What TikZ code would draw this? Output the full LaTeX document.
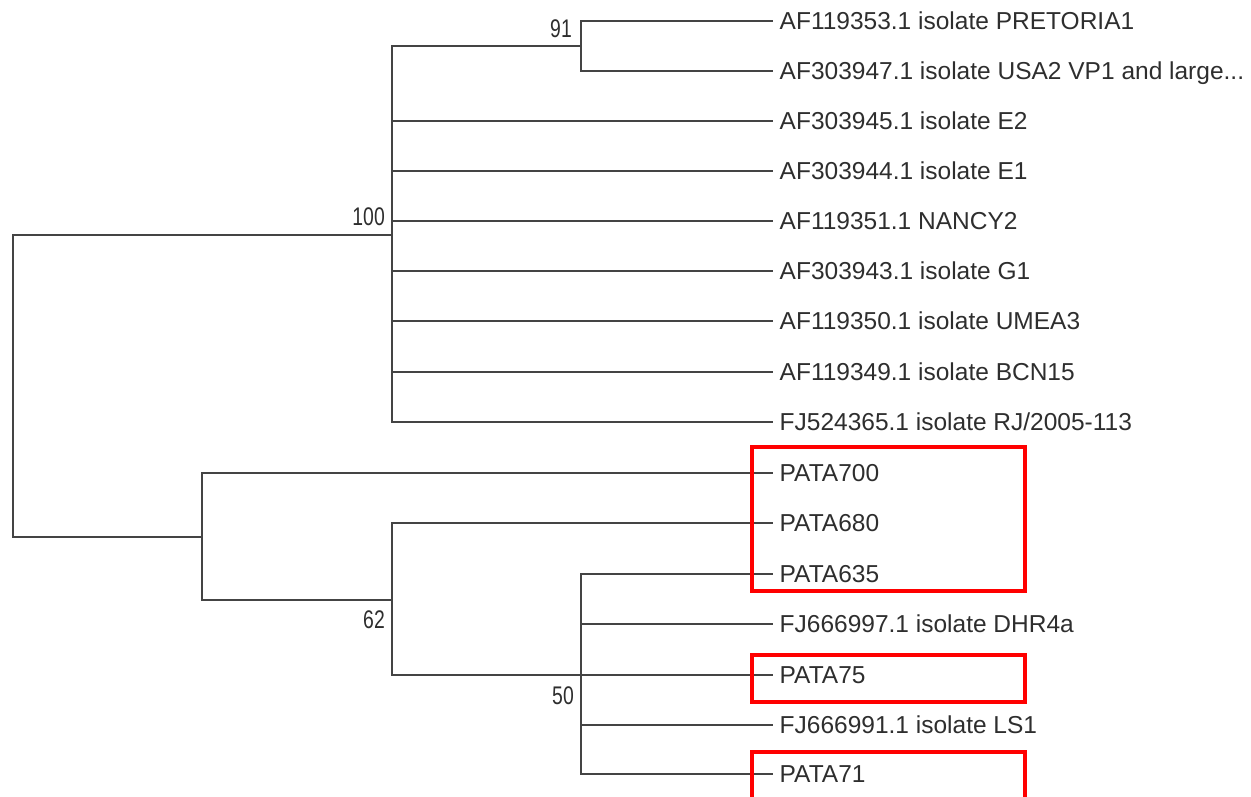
\documentclass[tikz,border=0pt]{standalone}
\usepackage{fontspec}
\usepackage{graphicx}
\setmainfont{Liberation Sans}
\definecolor{treegray}{HTML}{444444}
\definecolor{txtgray}{HTML}{2E2E2E}
\definecolor{boxred}{HTML}{FF0000}
\tikzset{
  branch/.style={draw=treegray, line width=2.3pt, line cap=rect},
  leaf/.style={anchor=west, inner xsep=7.5pt, inner ysep=0pt, text=txtgray,
    font=\fontsize{24.5}{28}\selectfont, text height=17.6pt, text depth=0pt},
  boot/.style={anchor=east, inner sep=0pt, text=txtgray,
    font=\fontsize{25.5}{28}\selectfont},
  redbox/.style={draw=boxred, line width=3.2pt}
}
\newcommand{\bootlbl}[1]{\scalebox{0.76}[1]{#1}}
\begin{document}
\begin{tikzpicture}[x=1pt,y=-1pt]
\useasboundingbox (0,0) rectangle (1251,796);
% leaves
\node[leaf] (l1)  at (772,21)  {AF119353.1 isolate PRETORIA1};
\node[leaf] (l2)  at (772,71)  {AF303947.1 isolate USA2 VP1 and large...};
\node[leaf] (l3)  at (772,121) {AF303945.1 isolate E2};
\node[leaf] (l4)  at (772,171) {AF303944.1 isolate E1};
\node[leaf] (l5)  at (772,221) {AF119351.1 NANCY2};
\node[leaf] (l6)  at (772,271) {AF303943.1 isolate G1};
\node[leaf] (l7)  at (772,321) {AF119350.1 isolate UMEA3};
\node[leaf] (l8)  at (772,372) {AF119349.1 isolate BCN15};
\node[leaf] (l9)  at (772,422) {FJ524365.1 isolate RJ/2005-113};
\node[leaf] (l10) at (772,473) {PATA700};
\node[leaf] (l11) at (772,523) {PATA680};
\node[leaf] (l12) at (772,574) {PATA635};
\node[leaf] (l13) at (772,624) {FJ666997.1 isolate DHR4a};
\node[leaf] (l14) at (772,675) {PATA75};
\node[leaf] (l15) at (772,725) {FJ666991.1 isolate LS1};
\node[leaf] (l16) at (772,774) {PATA71};
% internal nodes
\coordinate (root) at (13,386);
\coordinate (n100) at (392,235);
\coordinate (n91) at (581,46);
\coordinate (nL) at (202,537);
\coordinate (n62) at (392,600);
\coordinate (n50) at (581,675);
% branches
\draw[branch] (n100) -| (root) |- (nL);
\draw[branch] (n100) |- (n91);
\draw[branch] (n91) |- (l1.west);
\draw[branch] (n91) |- (l2.west);
\foreach \l in {l3,l4,l5,l6,l7,l8,l9} \draw[branch] (n100) |- (\l.west);
\draw[branch] (nL) |- (l10.west);
\draw[branch] (nL) |- (n62);
\draw[branch] (n62) |- (l11.west);
\draw[branch] (n62) |- (n50);
\foreach \l in {l12,l13,l14,l15,l16} \draw[branch] (n50) |- (\l.west);
% bootstrap values
\node[boot] (b91)  at (572,29)  {\bootlbl{91}};
\node[boot] (b100) at (385,217) {\bootlbl{100}};
\node[boot] (b62)  at (385,620) {\bootlbl{62}};
\node[boot] (b50)  at (574,696) {\bootlbl{50}};
% red boxes
\draw[redbox] (752,447) rectangle (1025,591);
\draw[redbox] (752,655) rectangle (1025,702);
\draw[redbox] (752,800) -- (752,752) -- (1025,752) -- (1025,800);
\end{tikzpicture}
\end{document}
